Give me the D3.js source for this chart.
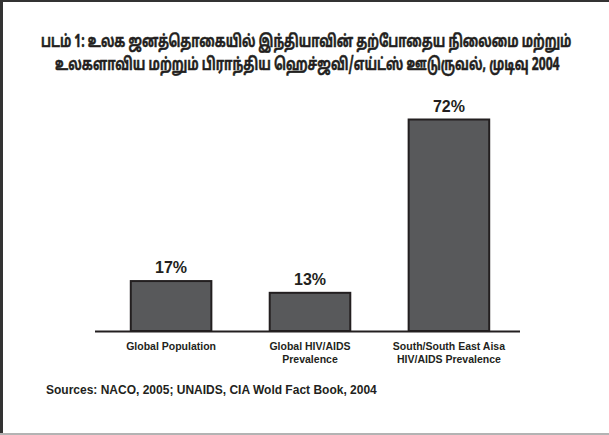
<!DOCTYPE html>
<html>
<head>
<meta charset="utf-8">
<script src="https://cdn.jsdelivr.net/npm/d3@7"></script>
<style>
  body { margin: 0; background: #fff; }
  svg { display: block; }
</style>
</head>
<body>
<div class="svg-container"></div>
<script>
const titleLines = [
  'படம் 1: உலக ஜனத்தொகையில் இந்தியாவின் தற்போதைய நிலைமை மற்றும்',
  'உலகளாவிய மற்றும் பிராந்திய ஹெச்ஜவி/எய்ட்ஸ் ஊடுருவல், முடிவு 2004'
]
const categories = [
  ['Global Population'],
  ['Global HIV/AIDS', 'Prevalence'],
  ['South/South East Aisa', 'HIV/AIDS Prevalence']
]
const values = [17, 13, 72]
const valueLabels = ['17%', '13%', '72%']
const sourceNote = 'Sources: NACO, 2005; UNAIDS, CIA Wold Fact Book, 2004'

const width = 609
const height = 435
const baseline = 331
const ink = '#231f20'

const svg = d3
  .select('.svg-container')
  .append('svg')
  .attr('width', width)
  .attr('height', height)

// frame: dark top + left, light bottom
svg.append('rect').attr('x', 0).attr('y', 0).attr('width', width).attr('height', 2).attr('fill', '#333')
svg.append('rect').attr('x', 0).attr('y', 0).attr('width', 3).attr('height', height).attr('fill', '#333')
svg.append('rect').attr('x', 0).attr('y', height - 2).attr('width', width).attr('height', 2).attr('fill', '#b3b3b3')

// title is set in a heavy condensed face in the original: squeeze each line to its width
const titleSpans = [[41, 531], [55, 505]]
svg
  .append('g')
  .selectAll('text')
  .data(titleLines)
  .join('text')
  .style('font-family', '"Noto Sans Tamil", "Lohit Tamil", "Noto Sans", sans-serif')
  .style('font-weight', 'bold')
  .style('font-size', '17px')
  .attr('fill', ink)
  .attr('stroke', ink)
  .attr('stroke-width', 0.5)
  .text((d) => d)
  .attr('transform', function (d, i) {
    const k = titleSpans[i][1] / this.getComputedTextLength()
    return `translate(${titleSpans[i][0]}, ${47 + i * 23}) scale(${k}, 1)`
  })

const xScale = d3.scaleBand(d3.range(values.length), [103, 517]).paddingInner(0.42).paddingOuter(0.2)
const yScale = d3.scaleLinear([0, 72], [baseline, 119.5])

const bars = svg.append('g')
bars
  .selectAll('rect')
  .data(values)
  .join('rect')
  .attr('x', (d, i) => xScale(i))
  .attr('y', (d) => yScale(d))
  .attr('width', xScale.bandwidth())
  .attr('height', (d) => baseline - yScale(d))
  .attr('fill', '#58595b')
  .attr('stroke', ink)
  .attr('stroke-width', 2)

bars
  .selectAll('text')
  .data(values)
  .join('text')
  .attr('x', (d, i) => xScale(i) + xScale.bandwidth() / 2)
  .attr('y', (d) => yScale(d) - 8)
  .attr('text-anchor', 'middle')
  .style('font-family', '"Liberation Sans", Arial, sans-serif')
  .style('font-weight', 'bold')
  .style('font-size', '16px')
  .attr('fill', ink)
  .text((d, i) => valueLabels[i])

svg
  .append('line')
  .attr('x1', 95)
  .attr('x2', 520)
  .attr('y1', baseline + 0.5)
  .attr('y2', baseline + 0.5)
  .attr('stroke', ink)
  .attr('stroke-width', 2)

const catLabels = svg
  .append('g')
  .selectAll('text')
  .data(categories)
  .join('text')
  .attr('x', (d, i) => xScale(i) + xScale.bandwidth() / 2)
  .attr('y', 350)
  .attr('text-anchor', 'middle')
  .style('font-family', '"Liberation Sans", Arial, sans-serif')
  .style('font-weight', 'bold')
  .style('font-size', '10.5px')
  .attr('fill', ink)

catLabels
  .selectAll('tspan')
  .data((d) => d)
  .join('tspan')
  .attr('x', function () { return this.parentNode.getAttribute('x') })
  .attr('dy', (d, i) => i === 0 ? 0 : 12.5)
  .text((d) => d)

svg
  .append('text')
  .attr('x', 46)
  .attr('y', 394)
  .style('font-family', '"Liberation Sans", Arial, sans-serif')
  .style('font-weight', 'bold')
  .style('font-size', '12px')
  .attr('fill', ink)
  .text(sourceNote)
</script>
</body>
</html>
